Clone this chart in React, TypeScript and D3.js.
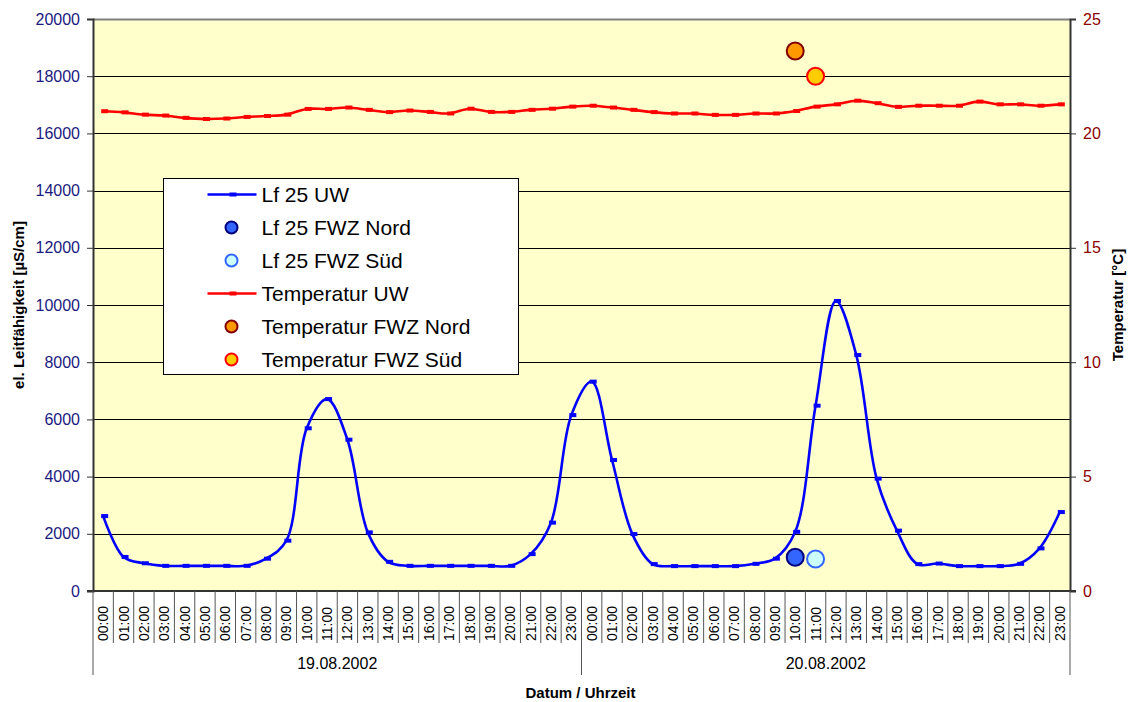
import { useEffect, useRef } from 'react';
import * as d3 from 'd3';

const HOURS = [
  '00:00', '01:00', '02:00', '03:00', '04:00', '05:00', '06:00', '07:00',
  '08:00', '09:00', '10:00', '11:00', '12:00', '13:00', '14:00', '15:00',
  '16:00', '17:00', '18:00', '19:00', '20:00', '21:00', '22:00', '23:00',
];
const DAYS = ['19.08.2002', '20.08.2002'];

// Lf 25 UW [µS/cm], hourly over both days
const LF_UW = [
  2620, 1190, 970, 880, 880, 880, 880, 880, 1130, 1760, 5690, 6710,
  5290, 2050, 1020, 880, 880, 880, 880, 880, 880, 1290, 2390, 6150,
  7320, 4580, 1990, 940, 870, 870, 870, 870, 950, 1130, 2070, 6480,
  10140, 8250, 3930, 2110, 940, 960, 870, 870, 870, 950, 1490, 2760,
];

// Temperatur UW [°C]
const TEMP_UW = [
  20.97, 20.92, 20.82, 20.78, 20.68, 20.63, 20.65, 20.72, 20.76, 20.82, 21.07, 21.07,
  21.13, 21.03, 20.93, 21.0, 20.94, 20.87, 21.08, 20.94, 20.94, 21.03, 21.08, 21.17,
  21.21, 21.13, 21.03, 20.93, 20.87, 20.87, 20.81, 20.81, 20.87, 20.87, 20.98, 21.17,
  21.27, 21.43, 21.32, 21.16, 21.21, 21.21, 21.21, 21.39, 21.27, 21.27, 21.21, 21.27,
];

// single measurements at the FWZ wells (index into the 48 hours)
const LF_NORD = [{ i: 34, v: 1180 }];
const LF_SUED = [{ i: 35, v: 1120 }];
const TEMP_NORD = [{ i: 34, v: 23.6 }];
const TEMP_SUED = [{ i: 35, v: 22.5 }];

const LF_TICKS = d3.range(0, 20001, 2000);
const TEMP_TICKS = [0, 5, 10, 15, 20, 25];

const LEGEND = [
  { label: 'Lf 25 UW', type: 'line', color: '#0000FF' },
  { label: 'Lf 25 FWZ Nord', type: 'dot', fill: '#3366FF', stroke: '#000080' },
  { label: 'Lf 25 FWZ Süd', type: 'dot', fill: '#CCFFFF', stroke: '#3366FF' },
  { label: 'Temperatur UW', type: 'line', color: '#FF0000' },
  { label: 'Temperatur FWZ Nord', type: 'dot', fill: '#FF9900', stroke: '#800000' },
  { label: 'Temperatur FWZ Süd', type: 'dot', fill: '#FFCC00', stroke: '#FF0000' },
];

const W = 1131;
const H = 702;
const FONT = 'Arial, "Liberation Sans", sans-serif';

export default function App() {
  const svgRef = useRef<SVGSVGElement>(null);

  useEffect(() => {
    if (!svgRef.current) return;
    const svg = d3.select(svgRef.current);
    svg.selectAll('*').remove();

    const left = 93, right = 1070, top = 19, bottom = 591;
    const cats = d3.range(LF_UW.length);

    const x = d3.scaleBand<number>().domain(cats).range([left, right]);
    const cx = (i: number) => (x(i) || 0) + x.bandwidth() / 2;
    const yL = d3.scaleLinear().domain([0, 20000]).range([bottom, top]);
    const yR = d3.scaleLinear().domain([0, 25]).range([bottom, top]);

    // plot area
    svg.append('rect')
      .attr('x', left).attr('y', top)
      .attr('width', right - left).attr('height', bottom - top)
      .attr('fill', '#FFFFCC');

    // grid
    svg.append('g').selectAll('line')
      .data(LF_TICKS.filter((d) => d > 0 && d < 20000))
      .join('line')
      .attr('x1', left).attr('x2', right)
      .attr('y1', (d) => Math.round(yL(d)) + 0.5)
      .attr('y2', (d) => Math.round(yL(d)) + 0.5)
      .attr('stroke', '#000').attr('stroke-width', 1);

    svg.append('line')
      .attr('x1', left).attr('x2', right)
      .attr('y1', top + 0.5).attr('y2', top + 0.5)
      .attr('stroke', '#808080').attr('stroke-width', 2);

    // left axis
    const axL = svg.append('g').attr('transform', `translate(${left},0)`)
      .call(d3.axisLeft(yL).tickValues(LF_TICKS).tickSize(6).tickPadding(7).tickFormat(d3.format('d')));
    axL.select('.domain').attr('stroke', '#333').attr('stroke-width', 2);
    axL.selectAll('.tick line').attr('stroke', '#333');
    axL.selectAll('text').attr('fill', '#1A1A80').style('font-size', '16px').style('font-family', FONT);

    // right axis
    const axR = svg.append('g').attr('transform', `translate(${right},0)`)
      .call(d3.axisRight(yR).tickValues(TEMP_TICKS).tickSize(6).tickPadding(7));
    axR.select('.domain').attr('stroke', '#333').attr('stroke-width', 2);
    axR.selectAll('.tick line').attr('stroke', '#333');
    axR.selectAll('text').attr('fill', '#8B0000').style('font-size', '16px').style('font-family', FONT);

    // bottom axis line
    svg.append('line')
      .attr('x1', left - 6).attr('x2', right + 6)
      .attr('y1', bottom).attr('y2', bottom)
      .attr('stroke', '#333').attr('stroke-width', 2);

    // category dividers and hour labels
    const xg = svg.append('g');
    xg.selectAll('line.div')
      .data(d3.range(LF_UW.length + 1))
      .join('line')
      .attr('class', 'div')
      .attr('x1', (i) => (i < LF_UW.length ? x(i) || 0 : right))
      .attr('x2', (i) => (i < LF_UW.length ? x(i) || 0 : right))
      .attr('y1', bottom)
      .attr('y2', (i) => (i % HOURS.length === 0 ? 675 : 643))
      .attr('stroke', '#555').attr('stroke-width', 1);

    xg.selectAll('text.hour')
      .data(cats)
      .join('text')
      .attr('class', 'hour')
      .attr('transform', (i) => `translate(${cx(i) + 5},641) rotate(-90)`)
      .attr('text-anchor', 'start')
      .style('font-size', '14px').style('font-family', FONT)
      .text((i) => HOURS[i % HOURS.length]);

    xg.selectAll('text.day')
      .data(DAYS)
      .join('text')
      .attr('class', 'day')
      .attr('x', (_, k) => {
        const a = x(k * HOURS.length) || 0;
        const b = k === DAYS.length - 1 ? right : x((k + 1) * HOURS.length) || 0;
        return (a + b) / 2;
      })
      .attr('y', 669)
      .attr('text-anchor', 'middle')
      .style('font-size', '16px').style('font-family', FONT)
      .text((d) => d);

    // axis titles
    svg.append('text')
      .attr('x', (left + right) / 2 - 1).attr('y', 698)
      .attr('text-anchor', 'middle')
      .style('font-size', '15px').style('font-weight', 'bold').style('font-family', FONT)
      .text('Datum / Uhrzeit');

    svg.append('text')
      .attr('transform', `translate(24,${(top + bottom) / 2}) rotate(-90)`)
      .attr('text-anchor', 'middle')
      .style('font-size', '15px').style('font-weight', 'bold').style('font-family', FONT)
      .text('el. Leitfähigkeit [µS/cm]');

    svg.append('text')
      .attr('transform', `translate(1123,${(top + bottom) / 2}) rotate(-90)`)
      .attr('text-anchor', 'middle')
      .style('font-size', '15px').style('font-weight', 'bold').style('font-family', FONT)
      .text('Temperatur [°C]');

    // series lines
    const drawSeries = (values: number[], y: d3.ScaleLinear<number, number>, color: string) => {
      const line = d3.line<number>()
        .x((_, i) => cx(i))
        .y((d) => y(d))
        .curve(d3.curveCatmullRom.alpha(0.5));
      svg.append('path')
        .datum(values)
        .attr('d', line)
        .attr('fill', 'none')
        .attr('stroke', color)
        .attr('stroke-width', 2.6);
      svg.append('g').selectAll('rect')
        .data(values)
        .join('rect')
        .attr('x', (_, i) => cx(i) - 2)
        .attr('y', (d) => y(d) - 2)
        .attr('width', 7).attr('height', 4)
        .attr('fill', color);
    };
    drawSeries(TEMP_UW, yR, '#FF0000');
    drawSeries(LF_UW, yL, '#0000FF');

    // single points
    const dots = (data: { i: number; v: number }[], y: d3.ScaleLinear<number, number>, fill: string, stroke: string) => {
      svg.append('g').selectAll('circle')
        .data(data)
        .join('circle')
        .attr('cx', (d) => cx(d.i))
        .attr('cy', (d) => y(d.v))
        .attr('r', 8.5)
        .attr('fill', fill)
        .attr('stroke', stroke)
        .attr('stroke-width', 2);
    };
    dots(LF_NORD, yL, '#3366FF', '#000080');
    dots(LF_SUED, yL, '#CCFFFF', '#3366FF');
    dots(TEMP_NORD, yR, '#FF9900', '#800000');
    dots(TEMP_SUED, yR, '#FFCC00', '#FF0000');

    // legend
    const lg = svg.append('g').attr('transform', 'translate(163.5,178.5)');
    lg.append('rect')
      .attr('width', 355).attr('height', 196)
      .attr('fill', '#fff').attr('stroke', '#000').attr('stroke-width', 1);
    const rows = lg.selectAll('g.row')
      .data(LEGEND)
      .join('g')
      .attr('class', 'row')
      .attr('transform', (_, k) => `translate(0,${16 + k * 33})`);
    rows.filter((d) => d.type === 'line').each(function (d) {
      const g = d3.select(this);
      g.append('line').attr('x1', 44).attr('x2', 93).attr('y1', 0).attr('y2', 0)
        .attr('stroke', d.color || '#000').attr('stroke-width', 2.6);
      g.append('rect').attr('x', 66).attr('y', -2).attr('width', 7).attr('height', 4)
        .attr('fill', d.color || '#000');
    });
    rows.filter((d) => d.type === 'dot').append('circle')
      .attr('cx', 68).attr('cy', 0).attr('r', 6)
      .attr('fill', (d) => d.fill || '#fff')
      .attr('stroke', (d) => d.stroke || '#000')
      .attr('stroke-width', 2);
    rows.append('text')
      .attr('x', 98).attr('y', 7.5)
      .style('font-size', '21px').style('font-family', FONT)
      .text((d) => d.label);
  }, []);

  return (
    <div style={{ position: 'absolute', left: 0, top: 0 }}>
      <svg ref={svgRef} width={W} height={H} style={{ display: 'block', background: '#fff' }} />
    </div>
  );
}
